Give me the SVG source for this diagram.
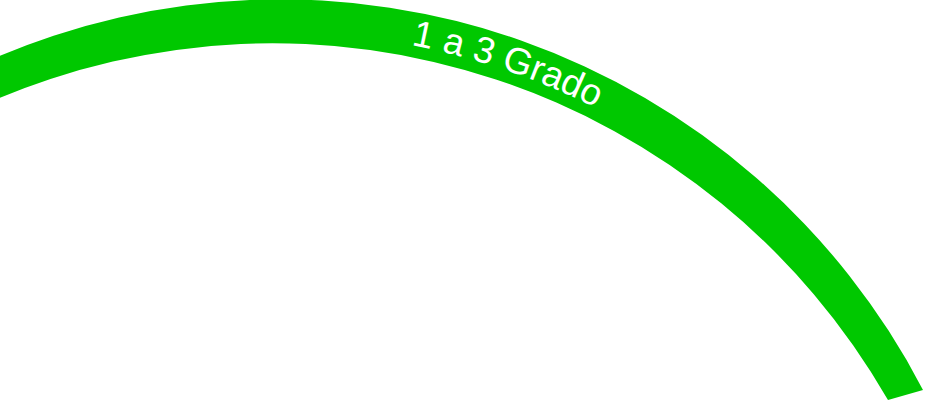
<svg xmlns="http://www.w3.org/2000/svg" width="925" height="401" viewBox="0 0 925 401">
<style>
.band{fill:#00c800;stroke:none}
.lbl{fill:#ffffff;font-family:"Liberation Sans",Arial,sans-serif;font-size:37px}
</style>
<defs>
<path id="tp" d="M 411 45 A 722 722 0 0 1 700 171.6"/>
</defs>
<rect width="925" height="401" fill="#ffffff"/>
<g id="band">
<path class="band" d="M -10 60.1 A 724 724 0 0 1 923 390 L 888 400 A 709.5 709.5 0 0 0 -10 102 Z"/>
<text class="lbl"><textPath href="#tp">1 a 3 Grado</textPath></text>
</g>
</svg>
